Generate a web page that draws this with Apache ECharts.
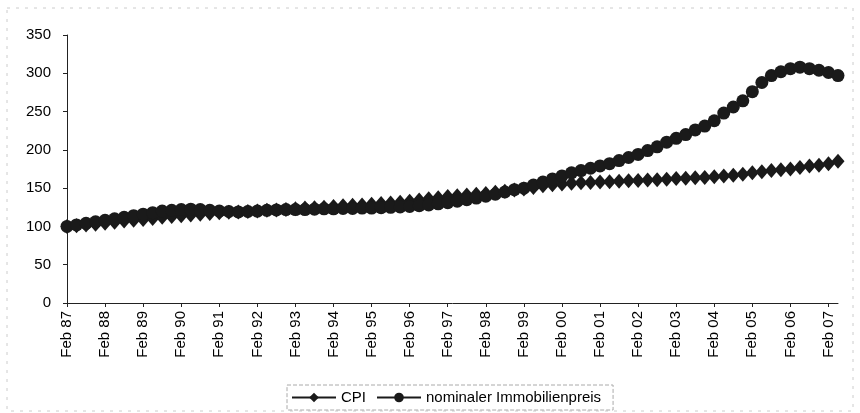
<!DOCTYPE html>
<html>
<head>
<meta charset="utf-8">
<script src="https://cdn.jsdelivr.net/npm/echarts@6/dist/echarts.min.js"></script>
<style>
  * { margin: 0; padding: 0; }
  body { background: #fff; }
</style>
</head>
<body>
<div id="chart" style="width: 860px;height: 413px;"></div>
<script>
// quarterly points, Feb 87 .. May 07
var years = ['87','88','89','90','91','92','93','94','95','96','97','98','99','00','01','02','03','04','05','06','07'];
var months = ['Feb', 'May', 'Aug', 'Nov'];
var categories = [];
years.forEach(function (y, i) {
    months.forEach(function (m, j) {
        if (i < years.length - 1 || j < 2) categories.push(m + ' ' + y);
    });
});

var cpi = [
    100, 101, 102, 103,
    104, 105.5, 107, 108,
    109, 110.5, 112, 113,
    114, 115, 116, 117,
    118, 118.5, 119, 119.5,
    120, 121, 121.5, 122,
    123, 124, 124.5, 125,
    126, 127, 127.5, 128,
    129, 130, 130.5, 131.5,
    133, 134.5, 136, 137.5,
    139, 140, 141, 142,
    143, 144.5, 146, 147.5,
    149, 151, 153, 154.5,
    155.5, 156.5, 157, 157.5,
    158, 158.5, 159, 159.5,
    160, 160.5, 161, 161.5,
    162.5, 163, 163.5, 164,
    165, 166, 167, 168,
    170, 171.5, 173, 174,
    175, 177, 179, 180,
    182, 185
];

var immo = [
    100, 102, 104, 106,
    108, 110, 112, 114,
    116, 118, 120, 121,
    122, 122.5, 122, 121,
    120, 119.5, 119, 119.5,
    120, 121, 121.5, 122,
    122, 122, 122.5, 123,
    123, 123.5, 123.5, 124,
    124, 124.5, 125, 125.5,
    126, 127, 128, 129.5,
    131, 133, 135, 137,
    139.5, 142, 145, 148,
    150, 154, 158, 162,
    166, 170, 173, 176,
    179, 182, 186, 190,
    194, 199, 204, 210,
    215, 220, 226, 231,
    238, 248, 256, 264,
    276, 288, 297, 302,
    306, 308, 306, 304,
    301, 297
];

var yTicks = [0, 50, 100, 150, 200, 250, 300, 350];

var chart = echarts.init(document.getElementById('chart'));
chart.setOption({
    animation: false,
    textStyle: { fontFamily: 'Liberation Sans, Arial, sans-serif' },
    grid: { left: 67, right: 22, top: 35, bottom: 110 },
    legend: {
        bottom: 3,
        left: 287,
        itemWidth: 44,
        itemHeight: 12,
        itemGap: 10,
        padding: [5, 12, 5, 4],
        borderColor: '#aaa',
        borderWidth: 1,
        borderType: 'dashed',
        textStyle: { color: '#000', fontSize: 15 },
        data: ['CPI', 'nominaler Immobilienpreis']
    },
    graphic: [{
        type: 'rect',
        shape: { x: 7, y: 8, width: 846, height: 403 },
        style: { fill: 'none', stroke: '#ccc', lineWidth: 1, lineDash: [3, 6] },
        silent: true
    }],
    xAxis: {
        type: 'category',
        data: categories,
        boundaryGap: false,
        axisLine: { lineStyle: { color: '#222', width: 1 } },
        axisTick: { interval: 3, length: 4, lineStyle: { color: '#222' } },
        axisLabel: {
            interval: 3,
            rotate: 90,
            color: '#000',
            fontSize: 15,
            margin: 8
        }
    },
    yAxis: {
        type: 'value',
        min: yTicks[0],
        max: yTicks[yTicks.length - 1],
        interval: 50,
        axisLine: { show: true, lineStyle: { color: '#222', width: 1 } },
        axisTick: { show: true, length: 4, lineStyle: { color: '#222' } },
        axisLabel: { color: '#000', fontSize: 15, margin: 16 },
        splitLine: { show: false }
    },
    series: [
        {
            name: 'CPI',
            type: 'line',
            data: cpi,
            symbol: 'diamond',
            symbolSize: [13, 15],
            showAllSymbol: true,
            itemStyle: { color: '#1a1a1a' },
            lineStyle: { color: '#1a1a1a', width: 2 }
        },
        {
            name: 'nominaler Immobilienpreis',
            type: 'line',
            data: immo,
            symbol: 'circle',
            symbolSize: 13,
            showAllSymbol: true,
            itemStyle: { color: '#1a1a1a' },
            lineStyle: { color: '#1a1a1a', width: 2 }
        }
    ]
});
</script>
</body>
</html>
